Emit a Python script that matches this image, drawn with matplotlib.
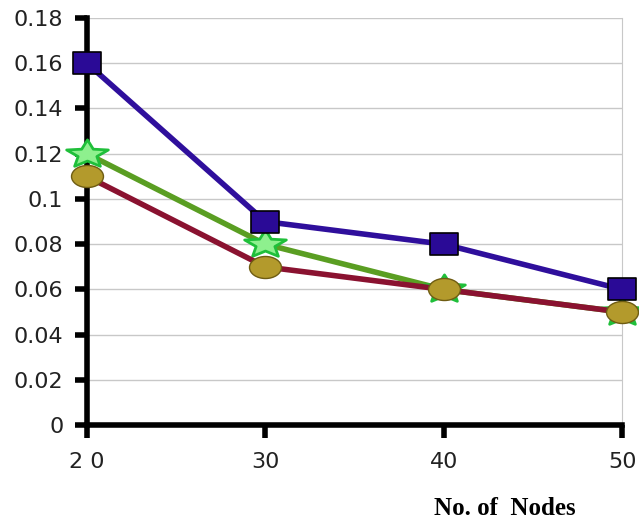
import numpy as np
import matplotlib.pyplot as plt
from matplotlib.path import Path

nodes = [20, 30, 40, 50]
series_blue = [0.16, 0.09, 0.08, 0.06]
series_green = [0.12, 0.08, 0.06, 0.05]
series_red = [0.11, 0.07, 0.06, 0.05]
yticks = [0, 0.02, 0.04, 0.06, 0.08, 0.1, 0.12, 0.14, 0.16, 0.18]
ylabels = ['0', '0.02', '0.04', '0.06', '0.08', '0.1', '0.12', '0.14', '0.16', '0.18']


def stretched(path, sx):
    # the original picture is squashed sideways, so the markers are too
    v = path.vertices * np.array([sx, 1.0])
    return Path(v, path.codes)


square = stretched(Path([(-1, -1), (1, -1), (1, 1), (-1, 1), (-1, -1)],
                        [1, 2, 2, 2, 79]), 1.3)
star = stretched(Path.unit_regular_star(5, 0.45), 1.5)
ball = stretched(Path.unit_circle(), 1.45)

fig = plt.figure(figsize=(6.39, 5.27), dpi=100)
ax = fig.add_axes([0.136, 0.193, 0.838, 0.773])

ax.plot(nodes, series_blue, color='#2f0f9c', lw=4, marker=square, ms=20,
        mfc='#2a0a96', mec='black', mew=1.2, zorder=4, clip_on=False)
ax.plot(nodes, series_green, color='#5a9e22', lw=4, marker=star, ms=30,
        mfc='#8ef08e', mec='#1fbf3a', mew=2, zorder=3, clip_on=False)
ax.plot(nodes, series_red, color='#8a1230', lw=4, marker=ball, ms=23,
        mfc='#b39a2c', mec='#6e5c12', mew=1, zorder=5, clip_on=False)

ax.set_xlim(20, 50)
ax.set_ylim(0, 0.18)
ax.set_xticks(nodes)
ax.set_xticklabels(['2 0', '30', '40', '50'])
ax.set_yticks(yticks)
ax.set_yticklabels(ylabels)
ax.yaxis.grid(True, color='#c8c8c8', lw=1)
ax.set_axisbelow(True)

for s in ['left', 'bottom']:
    ax.spines[s].set_linewidth(4)
    ax.spines[s].set_color('black')
ax.spines['top'].set_visible(False)
ax.spines['right'].set_color('#c8c8c8')
ax.tick_params(axis='both', direction='out', width=4, length=9,
               labelsize=16, colors='black')
ax.tick_params(axis='x', pad=10)
ax.tick_params(axis='y', pad=8)
for lab in ax.get_xticklabels() + ax.get_yticklabels():
    lab.set_fontfamily('DejaVu Sans')
    lab.set_color('#222222')

fig.text(0.79, 0.022, 'No. of  Nodes', fontsize=18, fontweight='bold',
         family='Liberation Serif', ha='center')

fig.savefig('out.png', dpi=100)
